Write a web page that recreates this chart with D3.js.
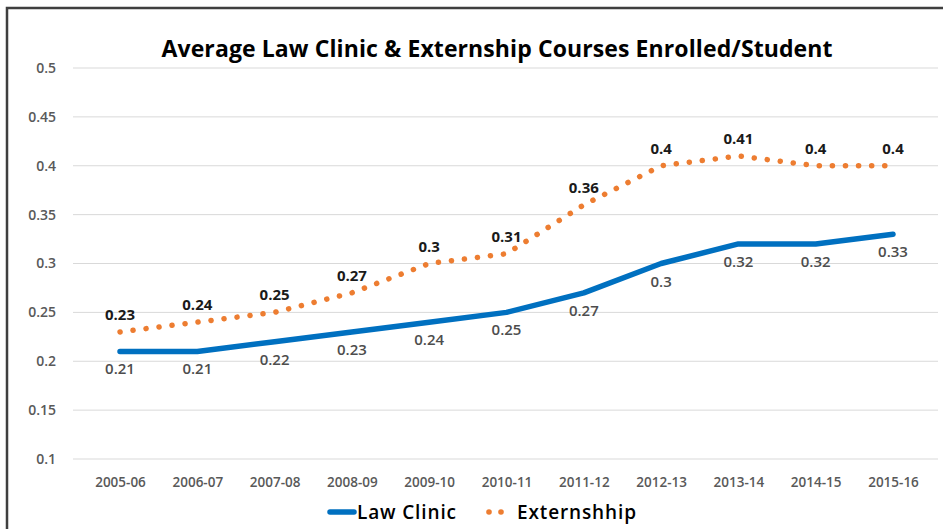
<!DOCTYPE html>
<html>
<head>
<meta charset="utf-8">
<script src="https://cdn.jsdelivr.net/npm/d3@7"></script>
<style>
  body { margin: 0; background: #fff; }
  text { font-family: "Open Sans", "Noto Sans", sans-serif; }
</style>
</head>
<body>
<script>
var years = ["2005-06", "2006-07", "2007-08", "2008-09", "2009-10", "2010-11",
             "2011-12", "2012-13", "2013-14", "2014-15", "2015-16"]
var lawClinic = [0.21, 0.21, 0.22, 0.23, 0.24, 0.25, 0.27, 0.3, 0.32, 0.32, 0.33]
var externship = [0.23, 0.24, 0.25, 0.27, 0.3, 0.31, 0.36, 0.4, 0.41, 0.4, 0.4]
var yTicks = [0.1, 0.15, 0.2, 0.25, 0.3, 0.35, 0.4, 0.45, 0.5]

var width = 943
var height = 529

var svg = d3.select('body')
    .append('svg')
    .attr('width', width)
    .attr('height', height)

// frame (right / bottom edges are cropped in the original)
svg.append('rect')
    .attr('x', 7).attr('y', 8)
    .attr('width', 960).attr('height', 560)
    .attr('fill', 'none')
    .attr('stroke', '#3f3f3f')
    .attr('stroke-width', 2.5)

var x = d3.scalePoint()
    .domain(years)
    .range([120, 893])

var y = d3.scaleLinear()
    .domain([0.1, 0.5])
    .range([459, 68])

// gridlines
svg.selectAll('.grid')
    .data(yTicks)
    .enter().append('line')
    .attr('class', 'grid')
    .attr('x1', 73).attr('x2', 938)
    .attr('y1', function (d) { return y(d) })
    .attr('y2', function (d) { return y(d) })
    .attr('stroke', '#d9d9d9')
    .attr('stroke-width', 1)

// y axis labels
var yAxis = svg.append('g')
    .attr('transform', 'translate(60,0)')
    .call(d3.axisLeft(y).tickValues(yTicks).tickSize(0).tickPadding(4)
        .tickFormat(function (d) { return String(+d.toFixed(2)) }))
yAxis.select('.domain').remove()
yAxis.selectAll('text')
    .style('font-size', '14px')
    .style('font-weight', '600')
    .style('font-family', '"Open Sans", sans-serif')
    .attr('fill', '#595959')

// x axis labels
var xAxis = svg.append('g')
    .attr('transform', 'translate(0,473)')
    .call(d3.axisBottom(x).tickSize(0).tickPadding(4))
xAxis.select('.domain').remove()
xAxis.selectAll('text')
    .style('font-size', '13.5px')
    .style('font-weight', '600')
    .style('font-family', '"Open Sans", sans-serif')
    .attr('fill', '#595959')

// title
svg.append('text')
    .attr('x', 497).attr('y', 57)
    .attr('text-anchor', 'middle')
    .style('font-size', '23px')
    .style('font-weight', 'bold')
    .attr('fill', '#000')
    .attr('textLength', 671)
    .text('Average Law Clinic & Externship Courses Enrolled/Student')

var line = d3.line()
    .x(function (d, i) { return x(years[i]) })
    .y(function (d) { return y(d) })

svg.append('path')
    .datum(externship)
    .attr('d', line)
    .attr('fill', 'none')
    .attr('stroke', '#ed7d31')
    .attr('stroke-width', 5.5)
    .attr('stroke-linecap', 'round')
    .attr('stroke-dasharray', '0.1 13')

svg.append('path')
    .datum(lawClinic)
    .attr('d', line)
    .attr('fill', 'none')
    .attr('stroke', '#0070c0')
    .attr('stroke-width', 5.5)
    .attr('stroke-linejoin', 'round')
    .attr('stroke-linecap', 'round')

// data labels
svg.selectAll('.ext-label')
    .data(externship)
    .enter().append('text')
    .attr('class', 'ext-label')
    .attr('x', function (d, i) { return x(years[i]) })
    .attr('y', function (d) { return y(d) - 12 })
    .attr('text-anchor', 'middle')
    .style('font-size', '15px')
    .style('font-weight', 'bold')
    .attr('fill', '#1a1a1a')
    .text(function (d) { return String(d) })

svg.selectAll('.lc-label')
    .data(lawClinic)
    .enter().append('text')
    .attr('class', 'lc-label')
    .attr('x', function (d, i) { return x(years[i]) })
    .attr('y', function (d) { return y(d) + 23 })
    .attr('text-anchor', 'middle')
    .style('font-size', '15px')
    .style('font-weight', '600')
    .attr('fill', '#4d4d4d')
    .text(function (d) { return String(d) })

// legend
var legend = svg.append('g')
legend.append('line')
    .attr('x1', 330).attr('x2', 354)
    .attr('y1', 512).attr('y2', 512)
    .attr('stroke', '#0070c0')
    .attr('stroke-width', 5.5)
    .attr('stroke-linecap', 'round')
legend.append('text')
    .attr('x', 357).attr('y', 519)
    .style('font-size', '19px')
    .style('font-weight', '600')
    .attr('fill', '#000')
    .attr('textLength', 99)
    .text('Law Clinic')
legend.selectAll('circle')
    .data([489, 501])
    .enter().append('circle')
    .attr('cx', function (d) { return d })
    .attr('cy', 512)
    .attr('r', 2.8)
    .attr('fill', '#ed7d31')
legend.append('text')
    .attr('x', 517).attr('y', 519)
    .style('font-size', '19px')
    .style('font-weight', '600')
    .attr('fill', '#000')
    .attr('textLength', 119)
    .text('Externshhip')
</script>
</body>
</html>
